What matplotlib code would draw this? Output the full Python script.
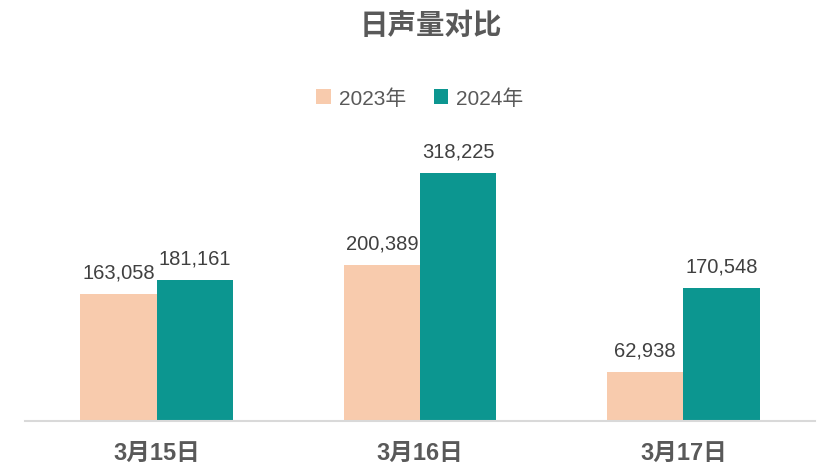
import matplotlib.pyplot as plt
import numpy as np

plt.rcParams['font.family'] = ['Liberation Sans', 'Noto Sans CJK SC', 'DejaVu Sans']

dates = ['3月15日', '3月16日', '3月17日']
series_names = ['2023年', '2024年']
vals_2023 = [163058, 200389, 62938]
vals_2024 = [181161, 318225, 170548]
colors = ['#F8CBAD', '#0C9690']

fig = plt.figure(figsize=(8.4, 4.77), dpi=100)
ax = fig.add_axes([0.0298, 0.1150, 0.9405, 0.759])

x = np.arange(len(dates))
w = 0.29
b1 = ax.bar(x - w / 2, vals_2023, w, color=colors[0], label=series_names[0])
b2 = ax.bar(x + w / 2, vals_2024, w, color=colors[1], label=series_names[1])

for bars in (b1, b2):
    for rect in bars:
        h = rect.get_height()
        ax.annotate(f'{h:,.0f}', (rect.get_x() + rect.get_width() / 2, h),
                    xytext=(0, 9), textcoords='offset points',
                    ha='center', va='bottom', fontsize=14.5, color='#404040')

ax.set_xlim(-0.5, 2.5)
ax.set_ylim(0, 463400)
ax.set_yticks([])
ax.set_xticks(x)
ax.set_xticklabels(dates, fontsize=17, color='#595959', fontweight='bold')
ax.tick_params(axis='x', length=0, pad=14)
for s in ['top', 'right', 'left']:
    ax.spines[s].set_visible(False)
ax.spines['bottom'].set_color('#D9D9D9')
ax.spines['bottom'].set_linewidth(1.5)

fig.text(431 / 840, 1 - 26 / 477, '日声量对比', ha='center', va='center',
         fontsize=20.5, fontweight='bold', color='#595959')

fig.legend(handles=[b1, b2], loc='center', bbox_to_anchor=(0.5, 1 - 99 / 477),
           ncol=2, frameon=False, fontsize=15, labelcolor='#595959',
           handlelength=0.7, handleheight=0.7, handletextpad=0.4, columnspacing=1.3)

fig.savefig('out.png', dpi=100)
